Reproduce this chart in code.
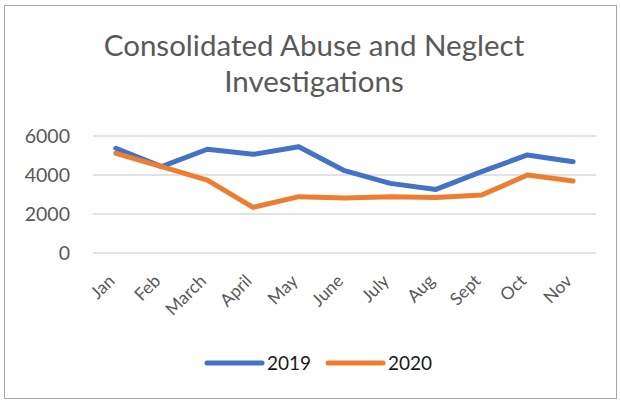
<!DOCTYPE html>
<html>
<head>
<meta charset="utf-8">
<script src="https://cdn.jsdelivr.net/npm/d3@7"></script>
<style>
  body { margin: 0; background: #fff; }
  text { font-family: Lato, "Open Sans", sans-serif; }
</style>
</head>
<body>
<div class="chart"></div>
<script>
const months = ["Jan", "Feb", "March", "April", "May", "June", "July", "Aug", "Sept", "Oct", "Nov"];
const values2019 = [5370, 4430, 5320, 5060, 5450, 4220, 3570, 3260, 4170, 5030, 4680];
const values2020 = [5110, 4430, 3740, 2340, 2890, 2820, 2890, 2850, 2970, 4000, 3690];
const yTicks = [0, 2000, 4000, 6000];
const seriesNames = ["2019", "2020"];
const seriesColors = ["#4472C4", "#ED7D31"];

const width = 620;
const height = 400;
const plot = { left: 93, right: 596, top: 136, bottom: 253 };

const svg = d3
  .select(".chart")
  .append("svg")
  .attr("width", width)
  .attr("height", height);

svg
  .append("rect")
  .attr("x", 4.5)
  .attr("y", 5.5)
  .attr("width", 612)
  .attr("height", 393)
  .attr("fill", "#fff")
  .attr("stroke", "#a6a6a6")
  .attr("stroke-width", 1);

// title
const title = svg
  .append("text")
  .attr("text-anchor", "middle")
  .attr("fill", "#595959")
  .attr("font-size", 29.5);
title.append("tspan").attr("x", 314).attr("y", 56).text("Consolidated Abuse and Neglect");
title.append("tspan").attr("x", 314).attr("y", 92).text("Investigations");

const x = d3
  .scaleBand()
  .domain(months)
  .range([plot.left, plot.right]);

const y = d3
  .scaleLinear()
  .domain([0, 6000])
  .range([plot.bottom, plot.top]);

// gridlines
svg
  .append("g")
  .selectAll("line")
  .data(yTicks)
  .join("line")
  .attr("x1", plot.left)
  .attr("x2", plot.right)
  .attr("y1", (d) => y(d))
  .attr("y2", (d) => y(d))
  .attr("stroke", "#d9d9d9")
  .attr("stroke-width", 1.5);

// y labels
svg
  .append("g")
  .selectAll("text")
  .data(yTicks)
  .join("text")
  .attr("x", 70)
  .attr("y", (d) => y(d))
  .attr("dy", "0.35em")
  .attr("text-anchor", "end")
  .attr("fill", "#595959")
  .attr("font-size", 19.5)
  .text((d) => d);

// x labels
svg
  .append("g")
  .selectAll("text")
  .data(months)
  .join("text")
  .attr("transform", (d) => `translate(${x(d) + x.bandwidth() / 2},${plot.bottom + 29}) rotate(-45)`)
  .attr("text-anchor", "end")
  .attr("fill", "#595959")
  .attr("font-size", 17.5)
  .text((d) => d);

const line = d3
  .line()
  .x((d, i) => x(months[i]) + x.bandwidth() / 2)
  .y((d) => y(d));

[values2019, values2020].forEach((vals, i) => {
  svg
    .append("path")
    .datum(vals)
    .attr("d", line)
    .attr("fill", "none")
    .attr("stroke", seriesColors[i])
    .attr("stroke-width", 5)
    .attr("stroke-linejoin", "round")
    .attr("stroke-linecap", "round");
});

// legend
const legendX = [207, 328];
seriesNames.forEach((name, i) => {
  const g = svg.append("g").attr("transform", `translate(${legendX[i]},363)`);
  g.append("line")
    .attr("x1", 0)
    .attr("x2", 55)
    .attr("stroke", seriesColors[i])
    .attr("stroke-width", 5)
    .attr("stroke-linecap", "round");
  g.append("text")
    .attr("x", 60)
    .attr("dy", "0.35em")
    .attr("fill", "#1a1a1a")
    .attr("font-size", 19)
    .text(name);
});
</script>
</body>
</html>
